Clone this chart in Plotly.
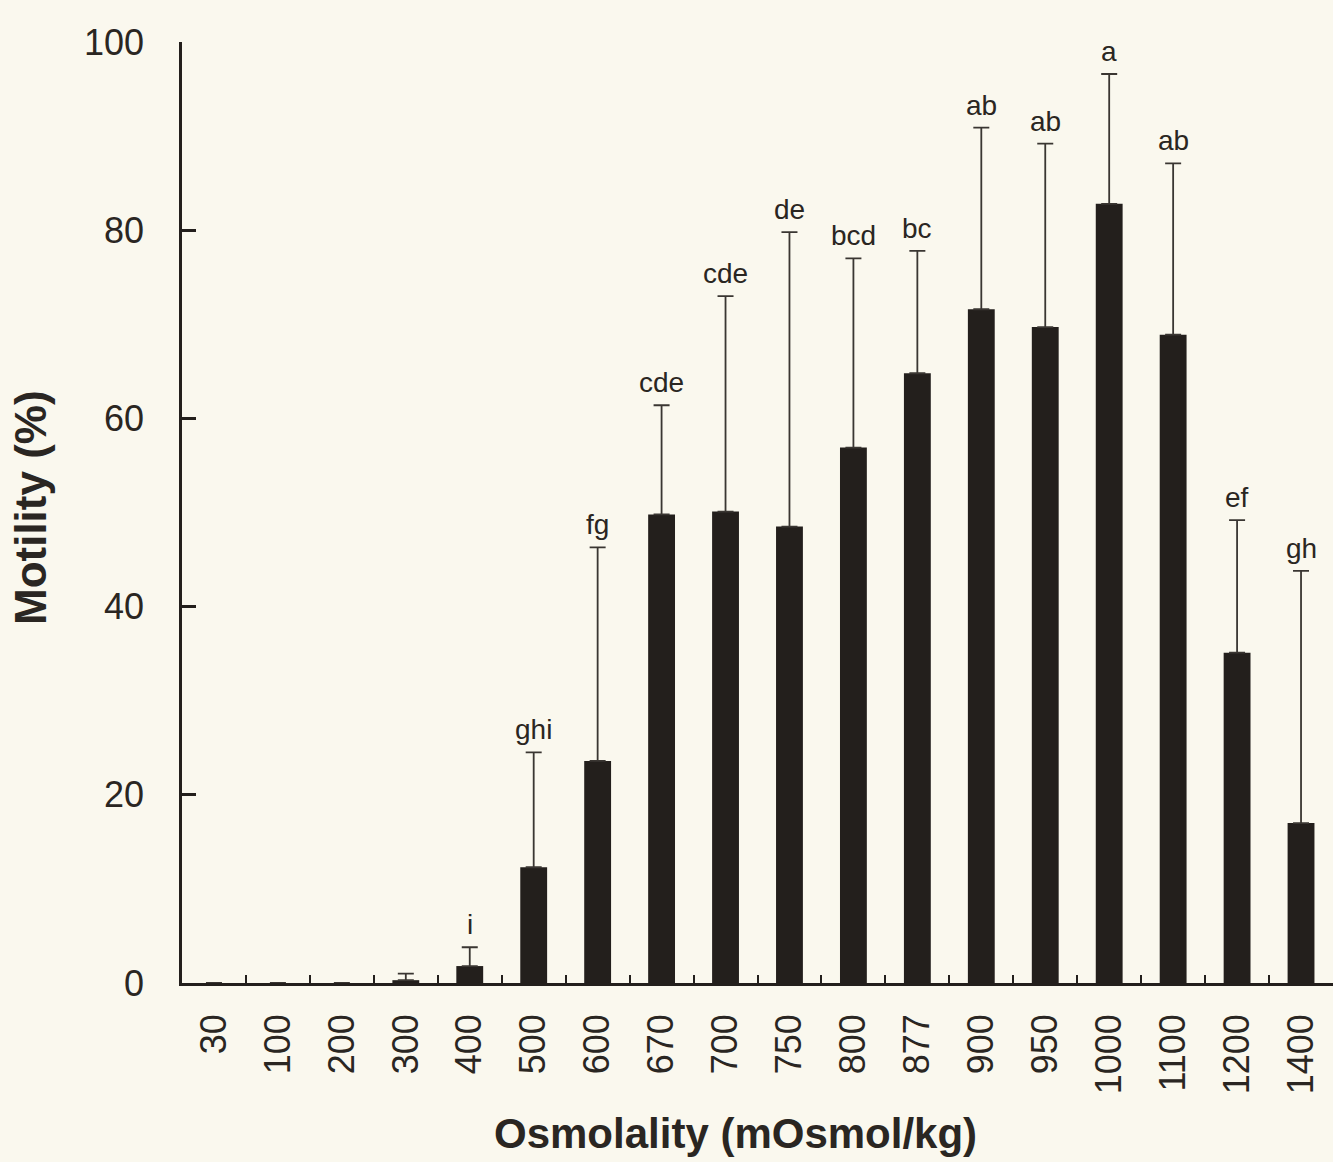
import plotly.graph_objects as go

osmolality = ["30", "100", "200", "300", "400", "500", "600", "670", "700", "750",
              "800", "877", "900", "950", "1000", "1100", "1200", "1400"]
motility = [0, 0, 0, 0.3, 1.8, 12.3, 23.6, 49.8, 50.1, 48.5,
            56.9, 64.8, 71.6, 69.7, 82.8, 68.9, 35.1, 17.0]
sd = [None, None, None, 0.7, 2.0, 12.2, 22.7, 11.6, 22.9, 31.3,
      20.1, 13.0, 19.3, 19.5, 13.8, 18.2, 14.1, 26.8]
letters = ["", "", "", "", "i", "ghi", "fg", "cde", "cde", "de",
           "bcd", "bc", "ab", "ab", "a", "ab", "ef", "gh"]

BG = "#faf8ee"
INK = "#231f1c"
FONT = "Liberation Sans, Arial, sans-serif"

fig = go.Figure()
fig.add_trace(go.Bar(
    x=osmolality, y=motility, width=0.42,
    marker=dict(color=INK, line=dict(width=0)),
    error_y=dict(type="data", array=sd, arrayminus=[0] * len(sd),
                 symmetric=False, color="#3a3632", thickness=1.8, width=8),
))

for i, (m, s, lab) in enumerate(zip(motility, sd, letters)):
    if not lab:
        continue
    fig.add_annotation(x=i, y=m + (s or 0), text=lab, showarrow=False,
                       xref="x", yref="y", yanchor="bottom", yshift=5,
                       font=dict(family=FONT, size=28, color="#2a2622"))

fig.add_annotation(text="<b>Osmolality (mOsmol/kg)</b>", xref="paper", yref="paper",
                   x=0.481, y=-0.16, showarrow=False, xanchor="center", yanchor="middle",
                   font=dict(family=FONT, size=42, color="#2a2622"))
fig.add_annotation(text="<b>Motility (%)</b>", xref="paper", yref="paper",
                   x=-0.131, y=0.505, showarrow=False, textangle=-90,
                   xanchor="center", yanchor="middle",
                   font=dict(family=FONT, size=44, color="#2a2622"))

fig.update_layout(
    width=1333, height=1162,
    margin=dict(l=182, r=0, t=42, b=179),
    paper_bgcolor=BG, plot_bgcolor=BG,
    showlegend=False,
    font=dict(family=FONT, color="#2a2622"),
    bargap=0.58,
)
fig.update_xaxes(
    type="category", range=[-0.5, 17.5],
    showline=True, linecolor=INK, linewidth=2.5,
    ticks="inside", ticklen=8, tickwidth=2, tickcolor=INK, tickson="boundaries",
    tickangle=-90, tickfont=dict(family=FONT, size=36, color="#2a2622"),
    ticklabelstandoff=14,
    showgrid=False, zeroline=False,
)
fig.update_yaxes(
    range=[0, 100], tickvals=[0, 20, 40, 60, 80, 100],
    showline=True, linecolor=INK, linewidth=2.5,
    ticks="inside", ticklen=14, tickwidth=2.5, tickcolor=INK,
    tickfont=dict(family=FONT, size=36, color="#2a2622"),
    ticklabelstandoff=28,
    showgrid=False, zeroline=False,
)

fig.write_html("out.html")
